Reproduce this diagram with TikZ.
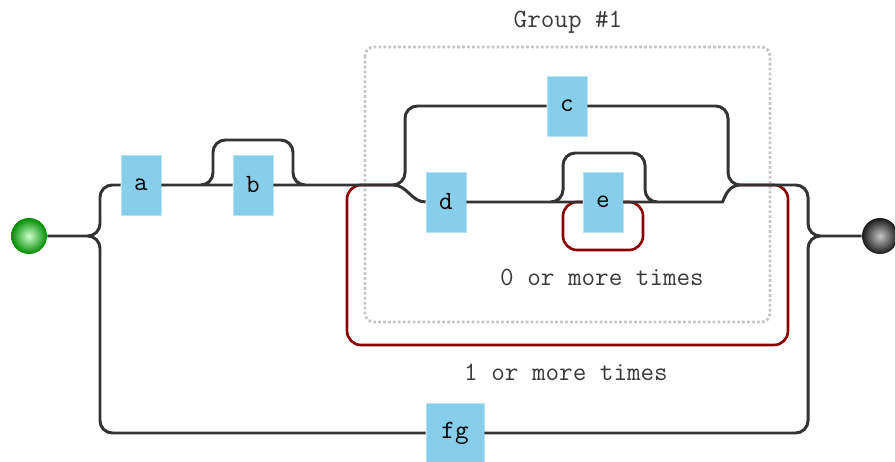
\documentclass[tikz,border=0pt]{standalone}
\usepackage{fontspec}
\definecolor{railgray}{HTML}{333333}
\definecolor{boxblue}{HTML}{87CEEB}
\definecolor{loopred}{HTML}{8B0000}
\definecolor{textgray}{HTML}{3A3A3A}
\tikzset{
x=0.02cm, y=-0.02cm, % one unit is one pixel of the picture
rail/.style={draw=railgray, line width=1.7pt, rounded corners=7pt}, % the tracks
repeat/.style={draw=loopred, line width=1.5pt, rounded corners=8pt}, % the red loops
groupbox/.style={draw=gray!45, line width=1.6pt, dash pattern=on 1.6pt off 1.2pt, rounded corners=5pt},
token/.style={fill=boxblue, draw=boxblue!60!white, line width=0.5pt, minimum width=0.8cm, minimum height=1.2cm, inner sep=0pt, font=\ttfamily\fontsize{15}{18}\selectfont},
note/.style={text=textgray, font=\ttfamily\fontsize{15}{18}\selectfont},
startball/.style={circle, minimum size=0.72cm, inner color=green!20!white, outer color=green!55!black},
endball/.style={circle, minimum size=0.72cm, inner color=gray!45, outer color=black!90},
}

\begin{document}
\begin{tikzpicture}
\useasboundingbox (0,0) rectangle (895,462);

% group frame and its title
\draw[groupbox] (365,47) rectangle (770,322);
\node[note] (grouptitle) at (568,22) {Group \#1};

\node[startball] (start) at (29,236) {};
\node[endball] (end) at (880,236) {};

\node[token] (a) at (141,185) {a};
\node[token] (b) at (253,185) {b};
\node[token] (c) at (567,106) {c};
\node[token] (d) at (446,202) {d};
\node[token] (e) at (603,202) {e};
\node[token, minimum width=1.16cm] (fg) at (455,433) {fg};

\coordinate (fork1) at (100,236);
\coordinate (join1) at (808,236);
\coordinate (bskipL) at (213,185);
\coordinate (bskipR) at (293,185);
\coordinate (gfork) at (393,185);
\coordinate (cL) at (405,185);
\coordinate (cR) at (728,185);
\coordinate (gjoin) at (740,185);
\coordinate (eskipL) at (563,202);
\coordinate (eskipR) at (645,202);
\coordinate (lowR) at (710,202);
\coordinate (rep1BL) at (347,345);
\coordinate (rep1TR) at (788,185);
\coordinate (rep0BL) at (563,250);
\coordinate (rep0TR) at (643,202);

% loops
\draw[repeat] (gfork) -| (rep1BL) -| (rep1TR) -- (gjoin);
\draw[repeat] (e) -| (rep0BL) -| (rep0TR) -- (e);
\node[note] (rep0) at (602,277) {0 or more times};
\node[note] (rep1) at (566,372) {1 or more times};

\draw[rail]
(start) -- (fork1) |- (a)
(start) -- (fork1) |- (fg)
(a) -- (b)
(a) -- (bskipL) -- ++(0,-45) -| (bskipR) -- (gfork)
(b) -- (cL) |- (c)
(gfork) to[out=0, in=180] (d)
(d) -- (e)
(d) -- (eskipL) -- ++(0,-49) -| (eskipR) -- (lowR)
(e) -- (lowR) to[out=0, in=180] (gjoin)
(c) -| (cR) -| (join1) -- (end)
(fg) -| (join1) -- (end)
;
\end{tikzpicture}
\end{document}
